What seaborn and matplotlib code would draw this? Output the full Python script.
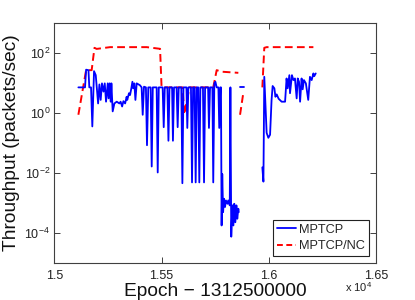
import numpy as np
import pandas as pd
import matplotlib
matplotlib.use("Agg")
import matplotlib.pyplot as plt
import seaborn as sns
from matplotlib.lines import Line2D
from matplotlib.ticker import FixedLocator, FixedFormatter, NullLocator

nan = np.nan

# MPTCP throughput (NaN = gap in the trace)
mptcp_x = [15112, 15143, 15148, 15159, 15163, 15171, 15177, 15185, 15193, 15204,
           15210, 15216, 15222, 15229, 15235, 15241, 15249, 15253, 15258, 15263,
           15266, 15272, 15280, 15291, 15303, 15309, 15316, 15322, 15330, 15337,
           15340, 15348, 15353, 15359, 15364, 15368, 15373, 15378, 15384, 15399,
           15407, 15412, 15418, 15427, 15432, 15438,
           15449, 15454, 15459, 15477, 15482, 15487, 15505, 15510, 15515,
           15527, 15532, 15537, 15549, 15553, 15558, 15570, 15575, 15580,
           15592, 15597, 15602, 15616, 15620, 15625, 15637, 15642, 15647,
           15654, 15659, 15664, 15671, 15676, 15681, 15693, 15698, 15703,
           15717, 15721, 15726, 15737, 15741, 15746, 15751, 15757,
           15765, 15769, 15774,
           15777, 15780, 15783, 15787, 15791, 15796, 15800, 15807, 15811, 15818,
           15821, 15825, 15830, 15835, 15839, 15844, 15849, 15853, 15858, 15860,
           nan, 15867, 15884, nan,
           15970, 15975, 15979, 15990, 15998, 16006, 16013, 16018, 16026, 16031,
           16037, 16046, 16060, 16076, 16083, 16088, 16096, 16099, 16108, 16115,
           16122, 16130, 16135, 16141, 16146, 16153, 16158, 16164, 16173, 16184,
           16192, 16200, 16208, 16212, 16219]
mptcp_y = [7.2, 7.2, 28, 27, 7.2, 7.2, 0.36, 25, 18.4, 2.1,
           9.0, 2.75, 9.8, 5.2, 9.8, 2.4, 9.8, 3.1, 9.8, 2.4,
           9.8, 1.14, 2.1, 2.4, 2.1, 2.4, 1.66, 2.5, 2.1, 3.5,
           2.75, 4.6, 4.0, 6.7, 11.1, 6.7, 9.8, 2.75, 9.8, 8.5,
           7.2, 0.88, 7.6, 7.2, 0.085, 7.2,
           7.2, 0.0166, 7.2, 7.2, 0.0105, 7.2, 7.2, 0.34, 7.2,
           7.2, 0.12, 7.2, 7.2, 0.12, 7.2, 7.2, 0.34, 7.2,
           7.2, 0.0046, 7.2, 7.2, 0.32, 7.2, 7.2, 0.0049, 7.2,
           7.2, 0.0049, 7.2, 7.2, 0.0049, 7.2, 7.2, 0.0049, 7.2,
           7.2, 0.32, 7.2, 7.2, 0.0049, 9.8, 11.1, 7.2,
           7.2, 0.32, 7.2,
           7.2, 0.00018, 0.0093, 0.0005, 0.0014, 0.00074, 0.00123, 0.00095, 0.00123, 0.00084,
           7.2, 7.6e-5, 0.00084, 0.00018, 0.00095, 0.00023, 0.00084, 0.0003, 0.00065, 0.0005,
           nan, 7.2, 7.2, nan,
           0.0155, 0.0052, 16.2, 0.22, 0.15, 0.19, 2.75, 8.0, 6.7, 3.5,
           4.2, 3.0, 2.4, 2.4, 14.3, 6.7, 18.4, 4.6, 18.4, 12.6,
           14.3, 3.1, 14.3, 11.1, 2.4, 14.3, 6.2, 12.6, 9.8, 2.75,
           16.2, 12.6, 21, 17, 21]

# MPTCP/NC throughput
nc_x = [15112, 15148, 15174, 15187, 15197, 15260, 15368, 15431, 15493, 15500,
        15598, 15606, 15630, 15741, 15757, 15780, 15858, nan,
        15866, 15881, nan,
        15970, 15979, 15990, 16208]
nc_y = [0.88, 27, 27, 150, 138, 158, 158, 158, 139, 7.2,
        7.2, 0.9, 7.2, 7.2, 27, 24, 22, nan,
        0.88, 4.6, nan,
        7.2, 150, 158, 158]

xticks = [15000, 15500, 16000, 16500]
xtick_labels = ["1.5", "1.55", "1.6", "1.65"]
yticks = [1e-4, 1e-2, 1e0, 1e2]
ytick_labels = ["$10^{-4}$", "$10^{-2}$", "$10^{0}$", "$10^{2}$"]


def to_frame(xs, ys):
    x = np.asarray(xs, dtype=float)
    y = np.asarray(ys, dtype=float)
    seg = np.cumsum(np.isnan(x))
    df = pd.DataFrame({"x": x, "y": y, "seg": seg})
    return df.dropna()


sns.set_theme(style="white")
plt.rcParams["font.family"] = ["Liberation Sans", "DejaVu Sans"]
plt.rcParams["mathtext.fontset"] = "custom"
plt.rcParams["mathtext.rm"] = "Liberation Sans"
plt.rcParams["mathtext.it"] = "Liberation Sans:italic"
plt.rcParams["mathtext.bf"] = "Liberation Sans:bold"

fig = plt.figure(figsize=(4.15, 3.0), dpi=100)
ax = fig.add_axes([0.131, 0.123, 0.775, 0.8])

d1 = to_frame(mptcp_x, mptcp_y)
d2 = to_frame(nc_x, nc_y)

sns.lineplot(data=d2, x="x", y="y", units="seg", estimator=None, sort=False,
             color="#ff0000", lw=1.4, linestyle=(0, (4, 2.2)), ax=ax, legend=False)
sns.lineplot(data=d1, x="x", y="y", units="seg", estimator=None, sort=False,
             color="#0000ff", lw=1.3, ax=ax, legend=False)
ax.set_yscale("log")
ax.set_xlim(15000, 16500)
ax.set_ylim(1e-5, 1e3)
ax.xaxis.set_major_locator(FixedLocator(xticks))
ax.xaxis.set_major_formatter(FixedFormatter(xtick_labels))
ax.yaxis.set_major_locator(FixedLocator(yticks))
ax.yaxis.set_major_formatter(FixedFormatter(ytick_labels))
ax.yaxis.set_minor_locator(NullLocator())

for s in ax.spines.values():
    s.set_color("#404040")
    s.set_linewidth(0.8)
ax.tick_params(axis="both", which="both", direction="in", top=True, right=True,
               bottom=True, left=True, length=4, width=0.7, color="#404040",
               labelsize=9, labelcolor="#222222")
ax.tick_params(axis="x", pad=5)
ax.tick_params(axis="y", pad=3)

ax.set_xlabel("Epoch \u2212 1312500000", fontsize=13.8, labelpad=1, color="#111111")
ax.set_ylabel("Throughput (packets/sec)", fontsize=13.8, labelpad=3, color="#111111")
fig.text(0.898, 0.02, "x 10$^{4}$", fontsize=8, ha="right", va="bottom", color="#222222")

handles = [Line2D([], [], color="#0000ff", lw=1.3),
           Line2D([], [], color="#ff0000", lw=1.4, linestyle=(0, (3, 1.8)))]
leg = ax.legend(handles, ["MPTCP", "MPTCP/NC"], loc="lower right", fontsize=9.2,
                frameon=True, fancybox=False, edgecolor="#222222", framealpha=1,
                borderpad=0.3, handlelength=1.5, handletextpad=0.25,
                labelspacing=0.35, borderaxespad=0.55)
leg.get_frame().set_linewidth(0.8)

fig.savefig("out.png", dpi=100)
